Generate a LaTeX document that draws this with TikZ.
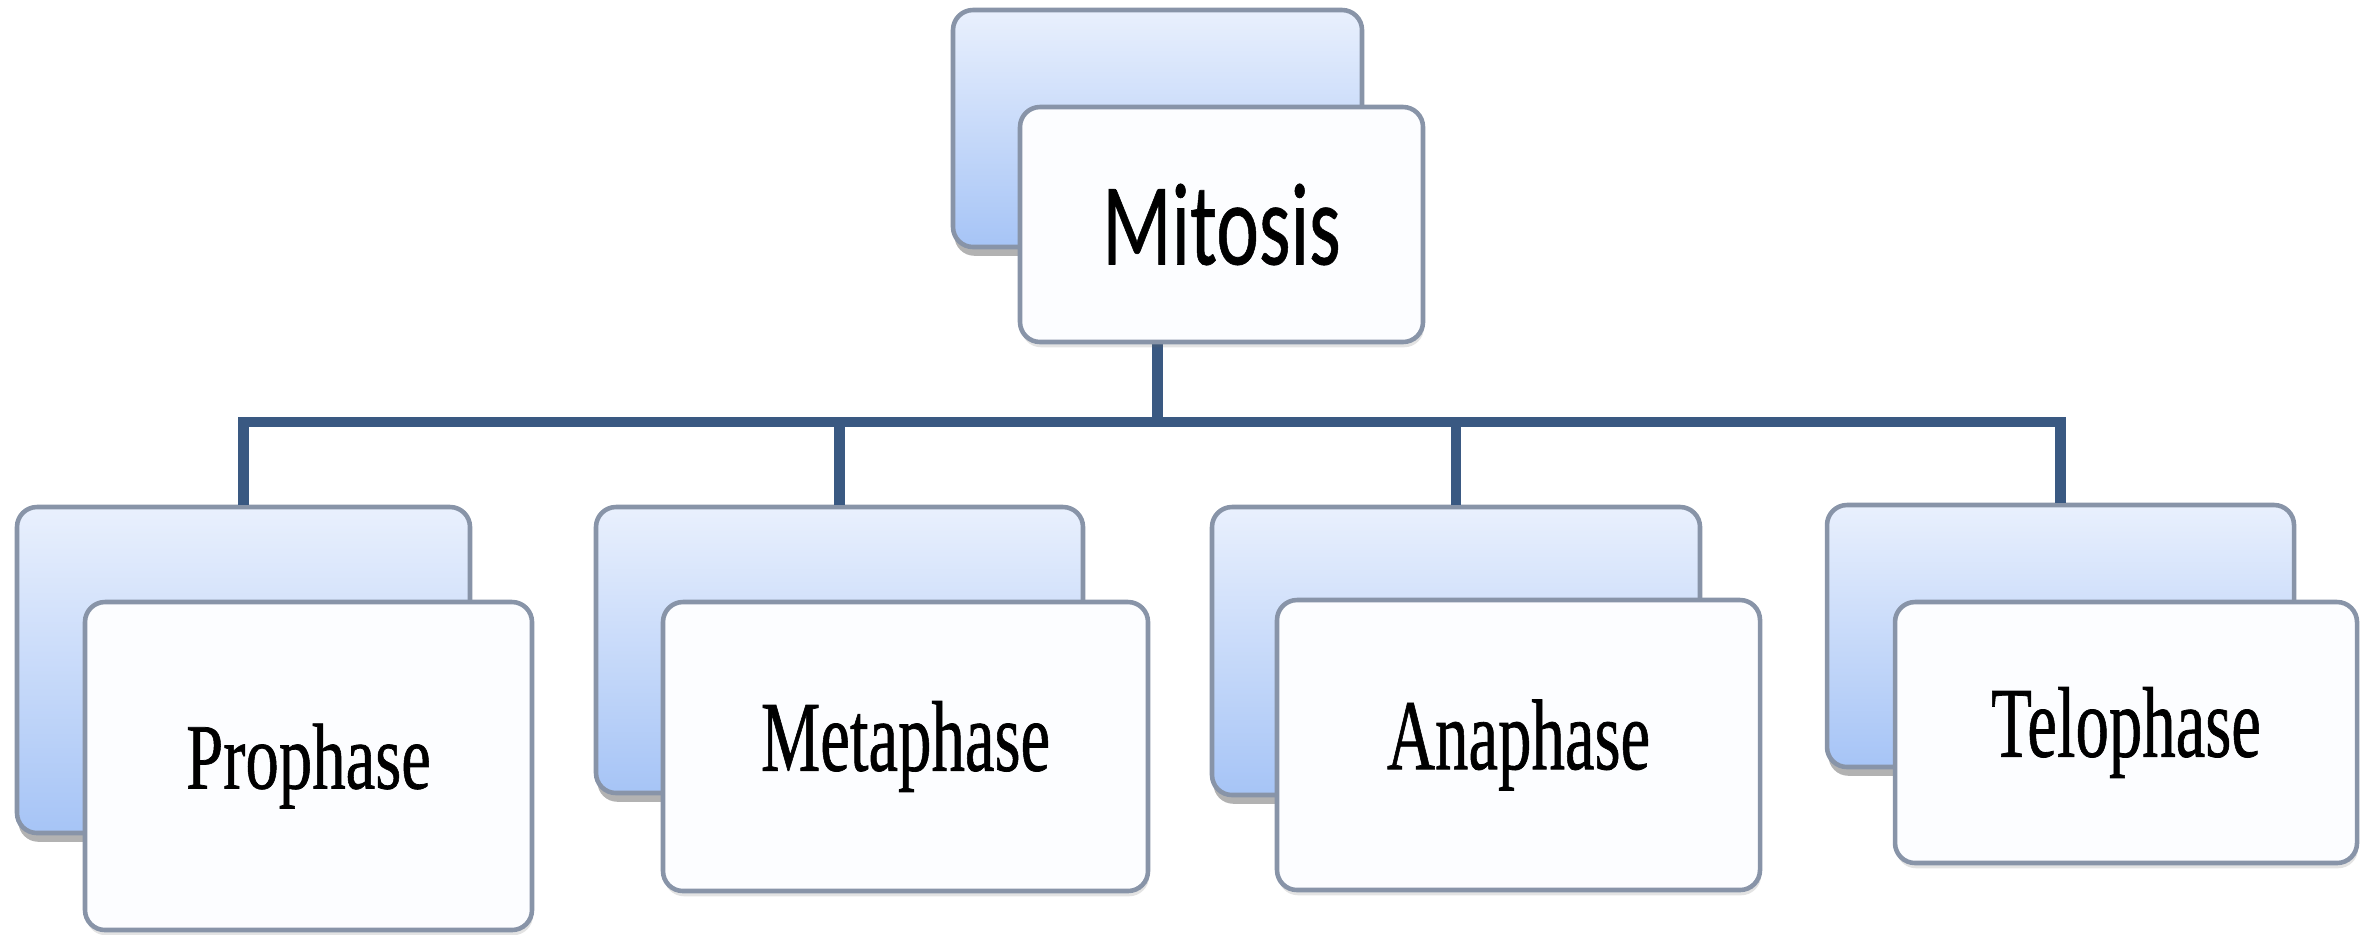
\documentclass[tikz,border=0pt]{standalone}
\usepackage{fontspec}
\usepackage{graphicx}
\setmainfont{Liberation Serif}
\newfontfamily\phasefont{Liberation Serif}[FakeBold=0.8]
\newfontfamily\headfont{Carlito}[FakeBold=0.6]
\usetikzlibrary{shadows}

\definecolor{busblue}{RGB}{58,89,130}
\definecolor{edgegray}{RGB}{136,148,168}
\definecolor{backtop}{RGB}{233,240,253}
\definecolor{backbot}{RGB}{166,196,246}
\definecolor{frontfill}{RGB}{252,253,255}

\tikzset{
  backbox/.style={draw=edgegray, line width=1.3pt, rounded corners=0.2cm,
    top color=backtop, bottom color=backbot, inner sep=0pt,
    drop shadow={shadow xshift=0.4pt, shadow yshift=-2.5pt, opacity=0.4, fill=black!75}},
  frontbox/.style={draw=edgegray, line width=1.3pt, rounded corners=0.2cm,
    fill=frontfill, inner sep=0pt,
    drop shadow={shadow xshift=0.3pt, shadow yshift=-1.5pt, opacity=0.18, fill=black!60}},
  conn/.style={draw=busblue, line width=3.1pt},
  phase/.style={font=\phasefont\fontsize{19}{22}\selectfont},
  head/.style={font=\headfont\fontsize{23}{27}\selectfont},
}

\begin{document}
\begin{tikzpicture}
  % page area and white ground
  \useasboundingbox (0,0) rectangle (23.74,-9.34);
  \fill[white] (0,0) rectangle (23.74,-9.34);

  % rear (shaded) cards
  \node[backbox, minimum width=4.09cm, minimum height=2.37cm] (mb)  at (11.575,-1.285) {};
  \node[backbox, minimum width=4.53cm, minimum height=3.26cm] (pb)  at (2.435,-6.70) {};
  \node[backbox, minimum width=4.87cm, minimum height=2.86cm] (meb) at (8.395,-6.50) {};
  \node[backbox, minimum width=4.88cm, minimum height=2.88cm] (ab)  at (14.56,-6.51) {};
  \node[backbox, minimum width=4.67cm, minimum height=2.62cm] (tb)  at (20.605,-6.36) {};

  % tree connectors
  \coordinate (bus) at (mb.south |- 0,-4.22);
  \draw[conn] (mb.south) -- (bus);
  \draw[conn] (pb.north) |- (bus) -| (tb.north);
  \draw[conn] (meb.north) -- (meb.north |- bus);
  \draw[conn] (ab.north) -- (ab.north |- bus);

  % front (white) cards with labels
  \node[frontbox, head, minimum width=4.03cm, minimum height=2.35cm] (mf) at (12.215,-2.245)
    {\scalebox{1}[1.45]{Mitosis}};
  \node[frontbox, phase, minimum width=4.47cm, minimum height=3.28cm] (pf) at (3.085,-7.66)
    {\scalebox{1}[1.4]{Prophase}};
  \node[frontbox, phase, minimum width=4.85cm, minimum height=2.89cm] (mef) at (9.055,-7.465)
    {\scalebox{1}[1.5]{Metaphase}};
  \node[frontbox, phase, minimum width=4.83cm, minimum height=2.90cm] (af) at (15.185,-7.45)
    {\scalebox{1}[1.5]{Anaphase}};
  \node[frontbox, phase, minimum width=4.62cm, minimum height=2.61cm] (tf) at (21.26,-7.325)
    {\scalebox{1}[1.5]{Telophase}};
\end{tikzpicture}
\end{document}
